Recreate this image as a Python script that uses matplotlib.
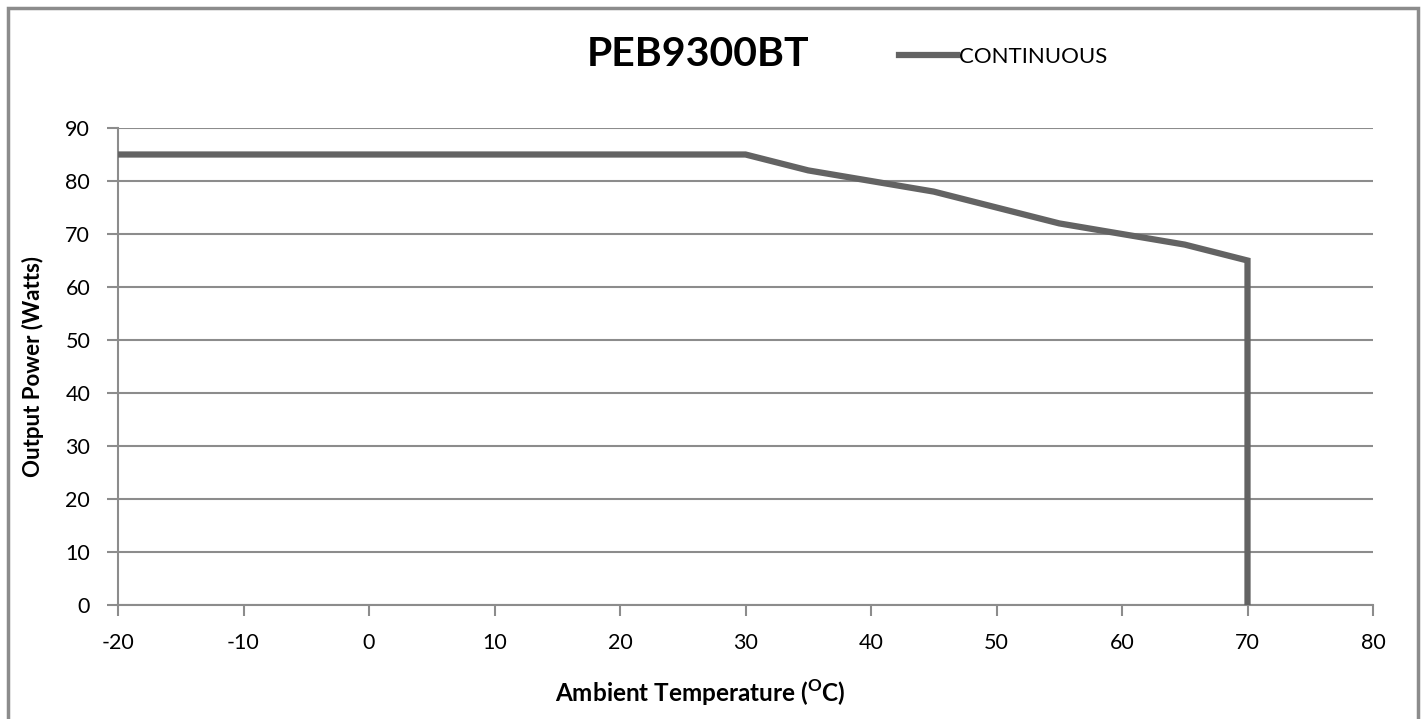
import matplotlib.pyplot as plt
from matplotlib.patches import Rectangle

# derating curve data
temps = [-20, 30, 35, 40, 45, 50, 55, 60, 65, 70, 70]
power = [85, 85, 82, 80, 78, 75, 72, 70, 68, 65, 0]
x_ticks = [-20, -10, 0, 10, 20, 30, 40, 50, 60, 70, 80]
y_ticks = [0, 10, 20, 30, 40, 50, 60, 70, 80, 90]

plt.rcParams['font.family'] = ['Lato', 'DejaVu Sans']
plt.rcParams['axes.unicode_minus'] = False
GRID = '#8c8c8c'

fig = plt.figure(figsize=(14.24, 7.19), dpi=100)
ax = fig.add_axes([118/1424, 1-605/719, (1373-118)/1424, (605-128)/719])

ax.plot(temps, power, color='#636363', linewidth=4.5, solid_joinstyle='miter',
        label='CONTINUOUS', zorder=3)

ax.set_xlim(-20, 80)
ax.set_ylim(0, 90)
ax.set_xticks(x_ticks)
ax.set_yticks(y_ticks)
ax.yaxis.grid(True, color=GRID, linewidth=1.5)
ax.set_axisbelow(True)
for s in ['top', 'right']:
    ax.spines[s].set_visible(False)
for s in ['left', 'bottom']:
    ax.spines[s].set_color(GRID)
    ax.spines[s].set_linewidth(1.5)
ax.tick_params(axis='both', colors=GRID, width=1.5, length=8, labelsize=15.5,
               labelcolor='black')
ax.tick_params(axis='x', pad=12)
ax.tick_params(axis='y', pad=12)

ax.set_xlabel('Ambient Temperature ($^{\\mathregular{O}}$C)', fontsize=17.5,
              fontweight='bold')
ax.xaxis.set_label_coords(0.464, -0.152)
ax.set_ylabel('Output Power (Watts)', fontsize=16, fontweight='bold')
ax.yaxis.set_label_coords(-0.059, 0.5)

fig.text(698/1424, 1-55/719, 'PEB9300BT', fontsize=29.5, fontweight='bold',
         ha='center', va='center')
ax.legend(loc='center left', bbox_to_anchor=(890/1424, 1-57/719),
          bbox_transform=fig.transFigure, frameon=False, fontsize=16,
          handlelength=2.6, handletextpad=0.1, borderaxespad=0)

fig.patches.append(Rectangle((8/1424, -0.05), (1418-8)/1424, 1.05-8/719,
                             transform=fig.transFigure, fill=False,
                             edgecolor='#8c8c8c', linewidth=2.5))

fig.savefig('out.png', dpi=100)
